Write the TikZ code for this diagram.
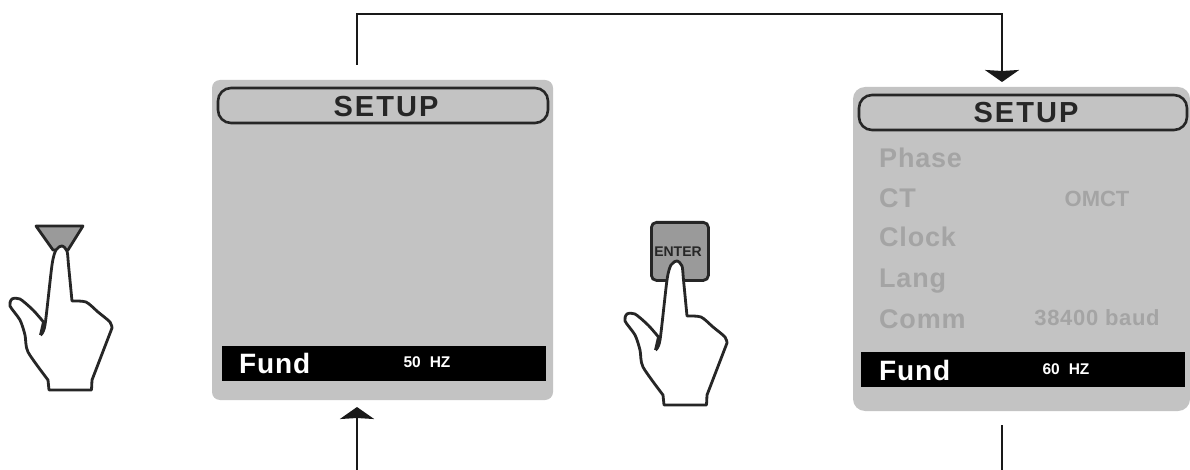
\documentclass[tikz,border=0pt]{standalone}
\usepackage{fontspec}
\setmainfont{Liberation Sans}
\usetikzlibrary{arrows.meta}
\definecolor{panelgray}{HTML}{C3C3C3}
\definecolor{fadetext}{HTML}{A4A4A4}
\definecolor{keygray}{HTML}{9A9A9A}
\newcommand{\fs}[1]{\fontsize{#1}{#1}\selectfont}
\newfontfamily\spaced[LetterSpace=7,BoldFont={Liberation Sans Bold}]{Liberation Sans}
\newfontfamily\spacedless[LetterSpace=3,BoldFont={Liberation Sans Bold}]{Liberation Sans}
\tikzset{
  x=1pt,y=-1pt,
  panel/.style={anchor=north west,fill=panelgray,inner sep=0,outer sep=0,minimum width=#1},
  header/.style={anchor=north west,draw=black!85,line width=2.6,fill=panelgray,inner sep=0,outer sep=0,minimum width=#1,minimum height=35,rounded corners=13},
  fundbar/.style={anchor=north west,fill=black,inner sep=0,outer sep=0,minimum width=324,minimum height=35},
  settitle/.style={inner sep=0,anchor=base,text=black!85,font=\spaced\bfseries\fs{29}},
  fundtxt/.style={inner sep=0,anchor=base west,text=white,font=\spacedless\bfseries\fs{28}},
  hztxt/.style={inner sep=0,text=white,font=\bfseries\fs{15.5}},
  fade/.style={inner sep=0,anchor=base west,text=fadetext,font=\spacedless\bfseries\fs{27}},
  fadesm/.style={inner sep=0,text=fadetext,font=\bfseries\fs{22}},
  conn/.style={line width=2.6,draw=black!90},
  connarr/.style={conn,-{Stealth[width=34,length=12,inset=1]}},
  handline/.style={line width=2.8,draw=black!85,fill=white,line join=round},
  handpic/.pic={
    \path[handline] plot[smooth,tension=0.45] coordinates {(40.5,335) (45,325) (52,265) (56,250) (62,246) (67,251) (68.5,265) (72,301)}
      -- plot[smooth,tension=0.45] coordinates {(72,301) (86,302) (98,312) (110,322) (112,328)}
      -- (92,380) -- (91.5,390) -- (49,390) -- (48,380)
      -- plot[smooth,tension=0.45] coordinates {(48,380) (28,352) (25,335) (20,320) (10,306) (12,299) (20,299) (33,310) (43.5,322)}
      -- (40.5,335);
  }
}
\begin{document}
\begin{tikzpicture}
\useasboundingbox (0,0) rectangle (1190,470);
\fill[white] (0,0) rectangle (1190,470);

% left panel
\node[panel=341,minimum height=320,rounded corners=8] (p1) at (212,80) {};
\node[header=330] (h1) at (218,88) {};
\node[settitle] (t1) at (386,117) {SETUP};
\node[fundbar] (f1) at (222,346) {};
\node[fundtxt] (fl1) at (239,373) {Fund};
\node[hztxt] (hz1) at (427,362) {50\hspace{9pt}HZ};

% right panel
\node[panel=337,minimum height=324,rounded corners=12] (p2) at (853,87) {};
\node[header=328] (h2) at (859,95) {};
\node[settitle] (t2) at (1026,123) {SETUP};
\node[fade] (a1) at (879,168) {Phase};
\node[fade] (a2) at (879,208) {CT};
\node[fadesm] (a2b) at (1097,199) {OMCT};
\node[fade] (a3) at (879,247) {Clock};
\node[fade] (a4) at (879,287) {Lang};
\node[fade] (a5) at (879,328) {Comm};
\node[fadesm,font=\spacedless\bfseries\fs{22}] (a5b) at (1097,318) {38400 baud};
\node[fundbar] (f2) at (861,352) {};
\node[fundtxt] (fl2) at (879,380) {Fund};
\node[hztxt] (hz2) at (1066,369) {60\hspace{9pt}HZ};

% left hand with key
\draw[line width=2.8,draw=black!85,fill=keygray,line join=round] (36,226) -- (83,226) -- (68,250) -- (53,250) -- cycle;
\pic at (0,0) {handpic};

% right hand with ENTER key
\node[anchor=north west,draw=black!85,line width=2.8,fill=keygray,minimum width=57,minimum height=58,inner sep=0,rounded corners=5] (key) at (650,221) {};
\node[inner sep=0,text=black!85,font=\bfseries\fs{14}] (keytxt) at (678,252) {ENTER};
\pic at (615,15) {handpic};

% connectors
\coordinate (c1) at (357,65);
\coordinate (c2) at (1002,82);
\coordinate (c3) at (357,470);
\coordinate (c4) at (357,407);
\coordinate (c5) at (1002,425);
\coordinate (c6) at (1002,470);
\draw[connarr] (c1) -- (357,14) -- (1002,14) -- (c2);
\draw[connarr] (c3) -- (c4);
\draw[conn] (c5) -- (c6);
\end{tikzpicture}
\end{document}
